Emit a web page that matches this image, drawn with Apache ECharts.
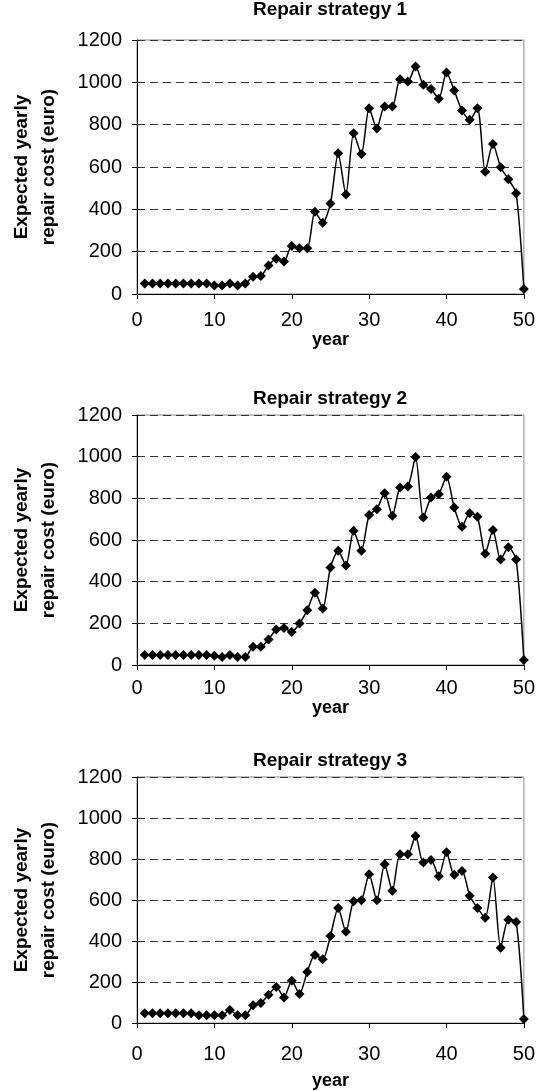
<!DOCTYPE html>
<html>
<head>
<meta charset="utf-8">
<script src="https://cdn.jsdelivr.net/npm/echarts@6/dist/echarts.min.js"></script>
<style>
html,body{margin:0;padding:0;background:#fff;}
#c{width:538px;height:1091px;}
</style>
</head>
<body>
<div id="c"></div>
<script>
const years = Array.from({length: 50}, (_, i) => i + 1);
const titles = ['Repair strategy 1', 'Repair strategy 2', 'Repair strategy 3'];
const yName = 'Expected yearly\nrepair cost (euro)';
const xName = 'year';
const strategy1 = [50,50,50,50,50,50,50,50,50,40, 40,50,40,50,82, 85,135,167,154,227, 216,216,388,337,427, 665,470,760,662,878, 782,886,886,1015,1004, 1075,988,968,923,1046, 961,867,823,878,578, 709,599,542,476,24];
const strategy2 = [48,48,48,48,48,48,48,48,48,45, 38,48,38,38,88, 88,123,170,178,159, 199,263,347,271,468, 549,478,645,549,720, 748,825,717,852,857, 998,708,804,820,904, 756,664,729,712,534, 648,506,565,506,24];
const strategy3 = [48,48,48,48,48,48,48,38,38,38, 38,63,38,38,87, 97,138,176,125,206, 141,249,332,311,425, 561,445,594,599,726, 599,775,645,823,823, 912,783,795,716,833, 723,742,621,561,513, 710,367,504,493,19];
const allSeries = [strategy1, strategy2, strategy3];

const grids = [
  {left: 134, right: 14, top: 40, height: 254},
  {left: 134, right: 12, top: 415, height: 250},
  {left: 134, right: 14, top: 777, height: 249}
];
const titleTops = [0, 389, 751];
const xLabelMargins = [16, 13, 21];
const xNameGaps = [29, 30, 49];
const font = 'Liberation Sans, Arial, sans-serif';

const option = {
  animation: false,
  backgroundColor: '#fff',
  title: titles.map((t, i) => ({
    text: t,
    left: 330, textAlign: 'center',
    top: titleTops[i], padding: 0,
    textStyle: {fontFamily: font, fontSize: 19, fontWeight: 'bold', color: '#000'}
  })),
  grid: grids.map(g => Object.assign({show: true, borderColor: '#888', borderWidth: 1, backgroundColor: 'transparent'}, g)),
  xAxis: grids.map((g, i) => ({
    type: 'value', gridIndex: i, min: 0, max: 50, interval: 10,
    name: xName, nameLocation: 'middle', nameGap: xNameGaps[i],
    nameTextStyle: {fontFamily: font, fontSize: 18, fontWeight: 'bold', color: '#000'},
    axisLine: {show: true, onZero: false, lineStyle: {color: '#000', width: 1}},
    axisTick: {show: true, inside: false, length: 5, lineStyle: {color: '#000'}},
    axisLabel: {fontFamily: font, fontSize: 20, color: '#000', margin: xLabelMargins[i]},
    splitLine: {show: false}
  })),
  yAxis: grids.map((g, i) => ({
    type: 'value', gridIndex: i, min: 0, max: 1200, interval: 200,
    name: yName, nameLocation: 'middle', nameGap: 75, nameRotate: 90,
    nameTextStyle: {fontFamily: font, fontSize: 19, fontWeight: 'bold', color: '#000', lineHeight: 27},
    axisLine: {show: true, lineStyle: {color: '#000', width: 1}},
    axisTick: {show: true, inside: false, length: 5, lineStyle: {color: '#000'}},
    axisLabel: {fontFamily: font, fontSize: 20, color: '#000', margin: 15, formatter: v => String(v)},
    splitLine: {show: true, lineStyle: {color: '#333', type: [8, 5], width: 1}}
  })),
  series: allSeries.map((s, i) => ({
    type: 'line', xAxisIndex: i, yAxisIndex: i,
    data: years.map((y, j) => [y, s[j]]),
    smooth: 0.25,
    symbol: 'diamond', symbolSize: 10,
    itemStyle: {color: '#000'},
    lineStyle: {color: '#000', width: 1.5}
  }))
};
const chart = echarts.init(document.getElementById('c'), null, {renderer: 'canvas'});
chart.setOption(option);
</script>
</body>
</html>
